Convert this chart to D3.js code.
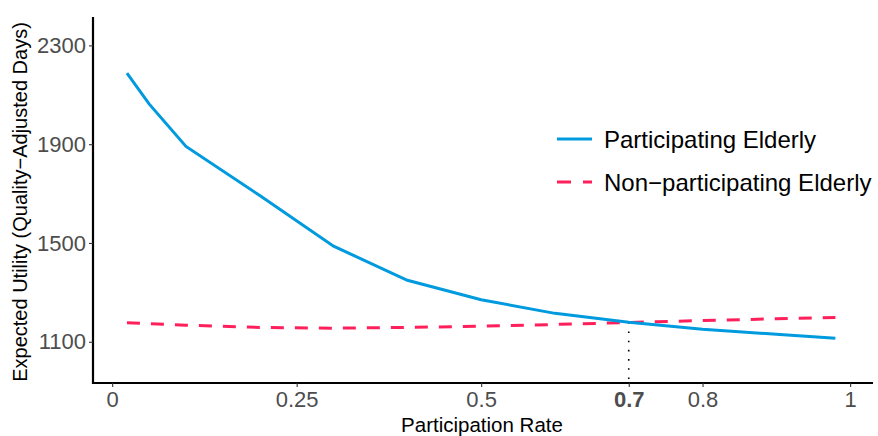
<!DOCTYPE html>
<html>
<head>
<meta charset="utf-8">
<script src="https://cdn.jsdelivr.net/npm/d3@7"></script>
<style>
  body { margin: 0; background: #fff; }
  svg { font-family: 'Liberation Sans', Arial, sans-serif; }
</style>
</head>
<body>
<div id="chart"></div>
<script>
const width = 878
const height = 436

// data
const rates = [0.02, 0.05, 0.1, 0.2, 0.3, 0.4, 0.5, 0.6, 0.7, 0.8, 0.9, 0.98]
const participating = [2188, 2063, 1891, 1692, 1487, 1349, 1270, 1215, 1179, 1151, 1130, 1114]
const nonParticipating = [1177, 1173, 1167, 1158, 1155, 1158, 1163, 1170, 1178, 1186, 1193, 1198]
const xTicks = [0, 0.25, 0.5, 0.7, 0.8, 1]
const yTicks = [1100, 1500, 1900, 2300]
const crossRate = 0.7
const crossValue = 1179
const seriesNames = ['Participating Elderly', 'Non\u2212participating Elderly']

const blue = '#009ADE'
const red = '#FF1F5B'

const svg = d3.select('#chart').append('svg').attr('width', width).attr('height', height)

const xScale = d3.scaleLinear().domain([-0.026, 1.031]).range([93, 873])
const yScale = d3.scaleLinear().domain([933, 2415]).range([383, 17])

// dotted drop line at the crossing point
svg
  .append('line')
  .attr('x1', xScale(crossRate))
  .attr('x2', xScale(crossRate))
  .attr('y1', yScale(crossValue))
  .attr('y2', yScale.range()[0])
  .attr('stroke', '#000')
  .attr('stroke-width', 1.6)
  .attr('stroke-dasharray', '1.6,7.6')

const line = d3
  .line()
  .x((d) => xScale(d[0]))
  .y((d) => yScale(d[1]))

svg
  .append('path')
  .datum(rates.map((r, i) => [r, nonParticipating[i]]))
  .attr('d', line)
  .attr('fill', 'none')
  .attr('stroke', red)
  .attr('stroke-width', 3)
  .attr('stroke-dasharray', '13,11')

svg
  .append('path')
  .datum(rates.map((r, i) => [r, participating[i]]))
  .attr('d', line)
  .attr('fill', 'none')
  .attr('stroke', blue)
  .attr('stroke-width', 3)

// axes
const xAxis = d3.axisBottom(xScale).tickValues(xTicks).tickSize(4).tickPadding(4).tickFormat((d) => String(d))
svg
  .append('g')
  .attr('transform', `translate(0,${yScale.range()[0]})`)
  .call(xAxis)
  .call((g) => {
    g.attr('font-size', null).attr('font-family', null)
    g.select('.domain').attr('stroke', '#000').attr('stroke-width', 2.2).attr('d', `M${xScale.range()[0] - 1},0H${xScale.range()[1]}`)
    g.selectAll('.tick line').attr('stroke', '#333').attr('stroke-width', 1.1)
    g.selectAll('.tick text')
      .attr('fill', '#4D4D4D')
      .style('font-size', '22px')
      .attr('font-weight', (d) => (d === crossRate ? 'bold' : 'normal'))
  })

const yAxis = d3.axisLeft(yScale).tickValues(yTicks).tickSize(4).tickPadding(3).tickFormat(d3.format('d'))
svg
  .append('g')
  .attr('transform', `translate(${xScale.range()[0]},0)`)
  .call(yAxis)
  .call((g) => {
    g.attr('font-size', null).attr('font-family', null)
    g.select('.domain').attr('stroke', '#000').attr('stroke-width', 2.2).attr('d', `M0,${yScale.range()[1]}V${yScale.range()[0] + 1}`)
    g.selectAll('.tick line').attr('stroke', '#333').attr('stroke-width', 1.1)
    g.selectAll('.tick text')
      .attr('fill', '#4D4D4D')
      .style('font-size', '22px')
  })

// axis titles
svg
  .append('text')
  .attr('x', 482)
  .attr('y', 432)
  .attr('text-anchor', 'middle')
  .style('font-size', '20.5px')
  .attr('fill', '#000')
  .text('Participation Rate')

svg
  .append('text')
  .attr('transform', `translate(27,202) rotate(-90)`)
  .attr('text-anchor', 'middle')
  .style('font-size', '20px')
  .attr('fill', '#000')
  .text('Expected Utility (Quality\u2212Adjusted Days)')

// legend
const legend = svg.append('g').attr('transform', 'translate(557,139)')
const legendStyles = [
  { color: blue, dash: null },
  { color: red, dash: '14,12' }
]
seriesNames.forEach((name, i) => {
  const row = legend.append('g').attr('transform', `translate(0,${i * 43})`)
  row
    .append('line')
    .attr('x1', 0)
    .attr('x2', 35)
    .attr('stroke', legendStyles[i].color)
    .attr('stroke-width', 3)
    .attr('stroke-dasharray', legendStyles[i].dash)
  row
    .append('text')
    .attr('x', 47)
    .attr('y', 8.5)
    .style('font-size', '24px')
    .attr('fill', '#000')
    .text(name)
})
</script>
</body>
</html>
